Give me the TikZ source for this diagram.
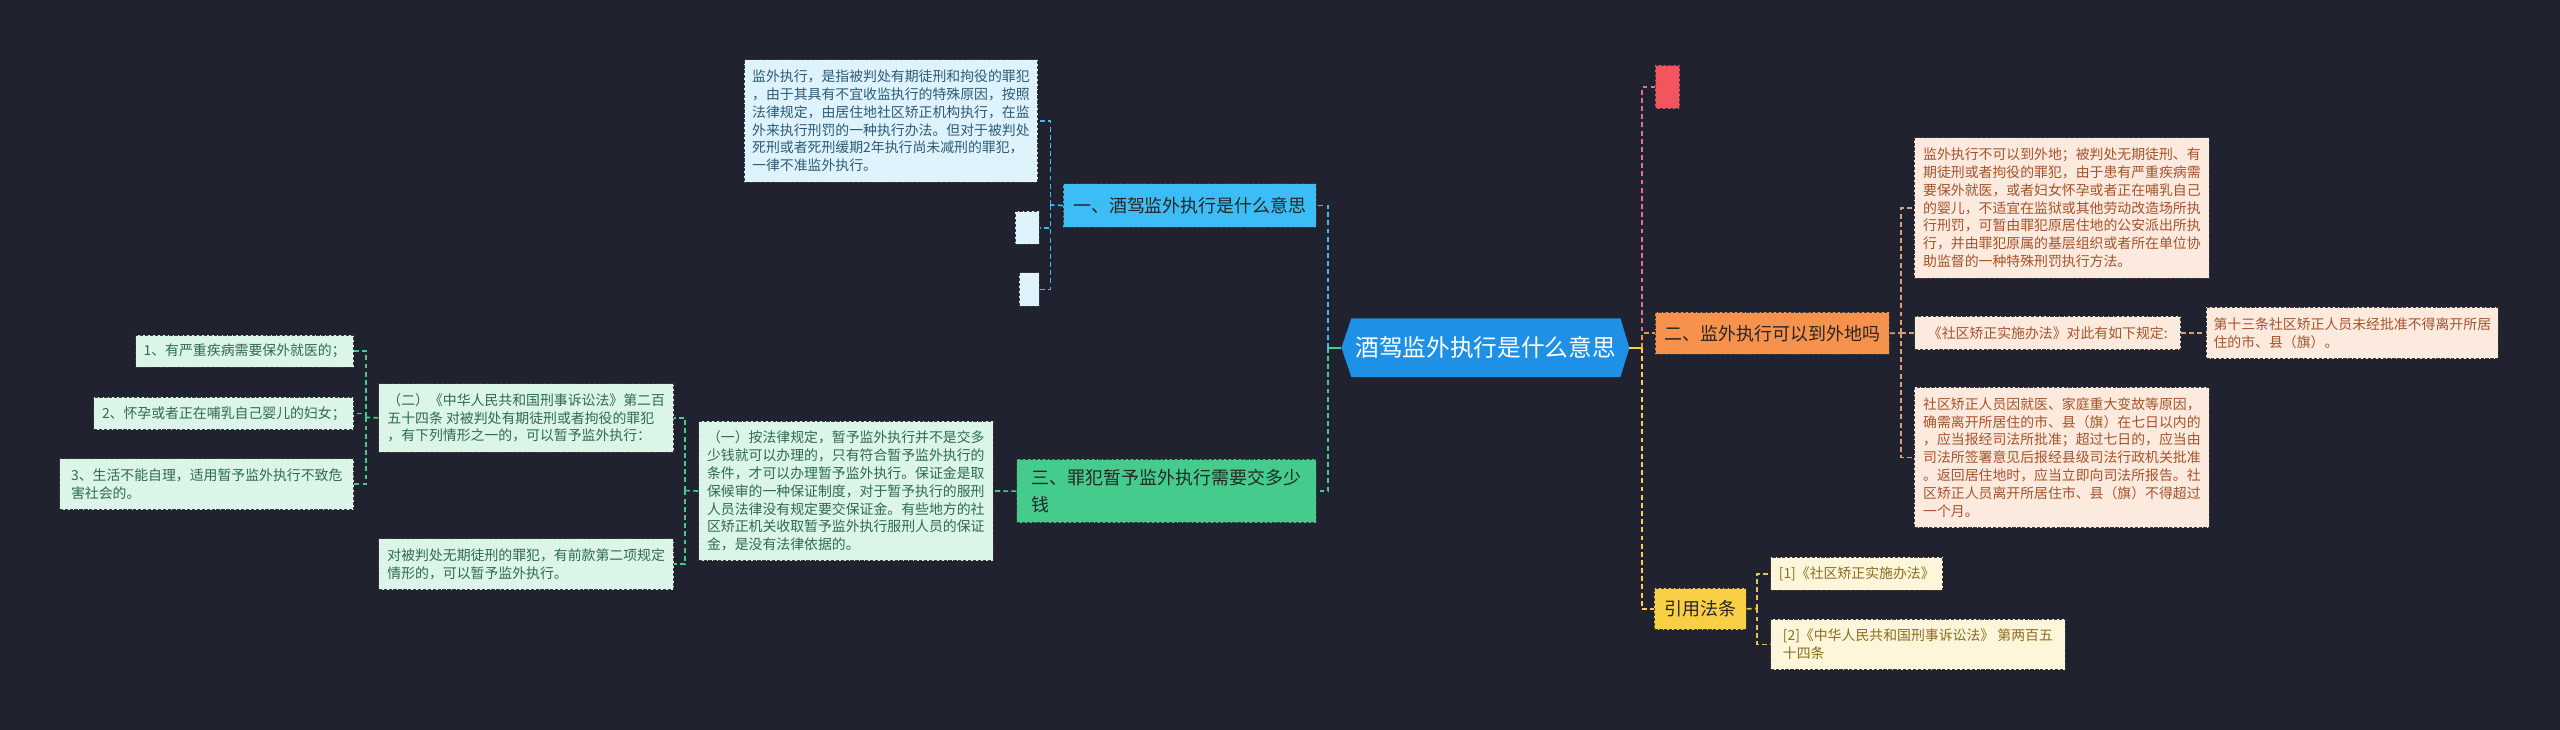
\documentclass[tikz,border=0pt]{standalone}
\usepackage{fontspec}
\setmainfont{Noto Sans CJK SC}
\definecolor{bg}{HTML}{20232F}
\definecolor{cmain}{HTML}{1E90E6}
\definecolor{cblue}{HTML}{3DBDF5}
\definecolor{cred}{HTML}{F2555D}
\definecolor{credl}{HTML}{E8707A}
\definecolor{corange}{HTML}{F7924C}
\definecolor{cyellow}{HTML}{F9D045}
\definecolor{cgreen}{HTML}{45CC8C}
\definecolor{lblue}{HTML}{DFF3FD}
\definecolor{tblue}{HTML}{2B5B77}
\definecolor{lpeach}{HTML}{FDEADF}
\definecolor{tpeach}{HTML}{A5532A}
\definecolor{cpeach}{HTML}{D9A07E}
\definecolor{lgreen}{HTML}{DCF5E9}
\definecolor{tgreen}{HTML}{2E6B4E}
\definecolor{lyellow}{HTML}{FDF6DA}
\definecolor{tyellow}{HTML}{8A6D1E}
\definecolor{cyel2}{HTML}{E3C25E}
\definecolor{bdr}{HTML}{3A3A3A}
\newcommand\fsm{\fontsize{8.5}{10.9}\selectfont}
\newcommand\fmid{\fontsize{11}{16}\selectfont}
\tikzset{
  box/.style={draw=bdr, dash pattern=on 2pt off 1pt, line width=0.6pt, anchor=north west,
    align=left, inner xsep=2pt, inner ysep=1pt, font=\fsm},
  mid/.style={box, font=\fmid, text=black!85},
  con/.style={dash pattern=on 3pt off 2pt, line width=1pt},
}
\begin{document}
\begin{tikzpicture}[x=1pt,y=-1pt]
\fill[bg] (0,0) rectangle (1568,447);
\useasboundingbox (0,0) rectangle (1568,447);

% center
\coordinate (hexW) at (821.6,213);
\coordinate (hexE) at (998,213);
\fill[cmain] (hexW) -- (827.7,195) -- (992.5,195) -- (hexE) -- (992.5,231) -- (827.7,231) -- cycle;
\node[text=white, font=\fontsize{14.5}{17}\selectfont] (c) at (910,213) {酒驾监外执行是什么意思};

% branch nodes
\node[mid, fill=cblue, minimum width=155, minimum height=26.5] (n1) at (651,112.3) {一、酒驾监外执行是什么意思};
\node[mid, fill=corange, minimum width=143.5, minimum height=25.9] (n2) at (1013.5,190.9) {二、监外执行可以到外地吗};
\node[mid, fill=cgreen, minimum width=183.5, minimum height=39] (n3) at (622.5,281) {三、罪犯暂予监外执行需要交多少\\钱};
\node[box, fill=cred, minimum width=14.9, minimum height=26.5] (r) at (1013.5,39.8) {};
\node[mid, fill=cyellow, minimum width=56.2, minimum height=25.5] (y) at (1013,359.9) {引用法条};

% branch one children
\node[box, fill=lblue, text=tblue, minimum width=179.8, minimum height=75] (b1) at (455.5,36.3)
 {监外执行，是指被判处有期徒刑和拘役的罪犯\\，由于其具有不宜收监执行的特殊原因，按照\\法律规定，由居住地社区矫正机构执行，在监\\外来执行刑罚的一种执行办法。但对于被判处\\死刑或者死刑缓期2年执行尚未减刑的罪犯，\\一律不准监外执行。};
\node[box, fill=lblue, minimum width=14.6, minimum height=20.2] (sA) at (621.6,129.2) {};
\node[box, fill=lblue, minimum width=12.2, minimum height=20.4] (sB) at (624,166.8) {};

% branch two children
\node[box, fill=lpeach, text=tpeach, minimum width=180.6, minimum height=85.9] (p1) at (1172.3,84.1)
 {监外执行不可以到外地；被判处无期徒刑、有\\期徒刑或者拘役的罪犯，由于患有严重疾病需\\要保外就医，或者妇女怀孕或者正在哺乳自己\\的婴儿，不适宜在监狱或其他劳动改造场所执\\行刑罚，可暂由罪犯原居住地的公安派出所执\\行，并由罪犯原属的基层组织或者所在单位协\\助监督的一种特殊刑罚执行方法。};
\node[box, fill=lpeach, text=tpeach, minimum width=162.7, minimum height=20.6] (p2) at (1172.6,193.3)
 {《社区矫正实施办法》对此有如下规定:};
\node[box, fill=lpeach, text=tpeach, minimum width=179, minimum height=31.6] (p3) at (1351,187.8)
 {第十三条社区矫正人员未经批准不得离开所居\\住的市、县（旗）。};
\node[box, fill=lpeach, text=tpeach, minimum width=180.6, minimum height=86.1] (p4) at (1172.3,236.8)
 {社区矫正人员因就医、家庭重大变故等原因，\\确需离开所居住的市、县（旗）在七日以内的\\，应当报经司法所批准；超过七日的，应当由\\司法所签署意见后报经县级司法行政机关批准\\。返回居住地时，应当立即向司法所报告。社\\区矫正人员离开所居住市、县（旗）不得超过\\一个月。};

% references
\node[box, fill=lyellow, text=tyellow, minimum width=105.3, minimum height=20.4] (y1) at (1084.3,340.9)
 {[1]《社区矫正实施办法》};
\node[box, fill=lyellow, text=tyellow, minimum width=180.2, minimum height=31] (y2) at (1084.3,378.9)
 {[2]《中华人民共和国刑事诉讼法》 第两百五\\十四条};

% branch three children
\node[box, fill=lgreen, text=tgreen, minimum width=180.3, minimum height=85.7] (g1) at (427.6,257.6)
 {（一）按法律规定，暂予监外执行并不是交多\\少钱就可以办理的，只有符合暂予监外执行的\\条件，才可以办理暂予监外执行。保证金是取\\保候审的一种保证制度，对于暂予执行的服刑\\人员法律没有规定要交保证金。有些地方的社\\区矫正机关收取暂予监外执行服刑人员的保证\\金，是没有法律依据的。};
\node[box, fill=lgreen, text=tgreen, minimum width=180.6, minimum height=41.9] (g2) at (231.7,234.7)
 {（二）《中华人民共和国刑事诉讼法》第二百\\五十四条 对被判处有期徒刑或者拘役的罪犯\\，有下列情形之一的，可以暂予监外执行：};
\node[box, fill=lgreen, text=tgreen, minimum width=180.6, minimum height=31.2] (g3) at (231.7,329.7)
 {对被判处无期徒刑的罪犯，有前款第二项规定\\情形的，可以暂予监外执行。};
\node[box, fill=lgreen, text=tgreen, minimum width=133.7, minimum height=19.4] (g4) at (82.7,205.1)
 {1、有严重疾病需要保外就医的；};
\node[box, fill=lgreen, text=tgreen, minimum width=159.2, minimum height=20] (g5) at (57.2,242.9)
 {2、怀孕或者正在哺乳自己婴儿的妇女；};
\node[box, fill=lgreen, text=tgreen, minimum width=180.1, minimum height=31.2] (g6) at (36.3,280.7)
 {3、生活不能自理，适用暂予监外执行不致危\\害社会的。};

% junctions
\coordinate (jl) at (813.4,213);
\coordinate (jr) at (1005.7,213);
\coordinate (k1) at (643.4,125.55);
\coordinate (k2) at (1164.5,203.85);
\coordinate (k3) at (1076.3,372.65);
\coordinate (k4) at (419.5,300.45);
\coordinate (k5) at (224.1,255.65);

% main connectors
\draw[cgreen, line width=1.2pt] (hexW) -- (jl);
\draw[cyellow, line width=1.2pt] (hexE) -- (jr);
\draw[con, cblue] (jl) |- (n1.east);
\draw[con, cgreen] (jl) |- (n3.east);
\draw[con, credl] (jr) |- (r.west);
\draw[con, corange] (jr) |- (n2.west);
\draw[con, cyellow] (jr) |- (y.west);

% sub connectors
\draw[con, cblue] (n1.west) -- (k1);
\draw[con, cblue] (k1) |- (b1.east);
\draw[con, cblue] (k1) |- (sA.east);
\draw[con, cblue] (k1) |- (sB.east);

\draw[con, cpeach] (n2.east) -- (k2);
\draw[con, cpeach] (k2) |- (p1.west);
\draw[con, cpeach] (k2) |- (p2.west);
\draw[con, cpeach] (k2) |- (p4.west);
\draw[con, cpeach] (p2.east) -- (p3.west);

\draw[con, cyel2] (y.east) -- (k3);
\draw[con, cyel2] (k3) |- (y1.west);
\draw[con, cyel2] (k3) |- (y2.west);

\draw[con, cgreen] (n3.west) -- (g1.east);
\draw[con, cgreen] (g1.west) -- (k4);
\draw[con, cgreen] (k4) |- (g2.east);
\draw[con, cgreen] (k4) |- (g3.east);
\draw[con, cgreen] (g2.west) -- (k5);
\draw[con, cgreen] (k5) |- (g4.east);
\draw[con, cgreen] (k5) |- (g5.east);
\draw[con, cgreen] (k5) |- (g6.east);
\end{tikzpicture}
\end{document}
